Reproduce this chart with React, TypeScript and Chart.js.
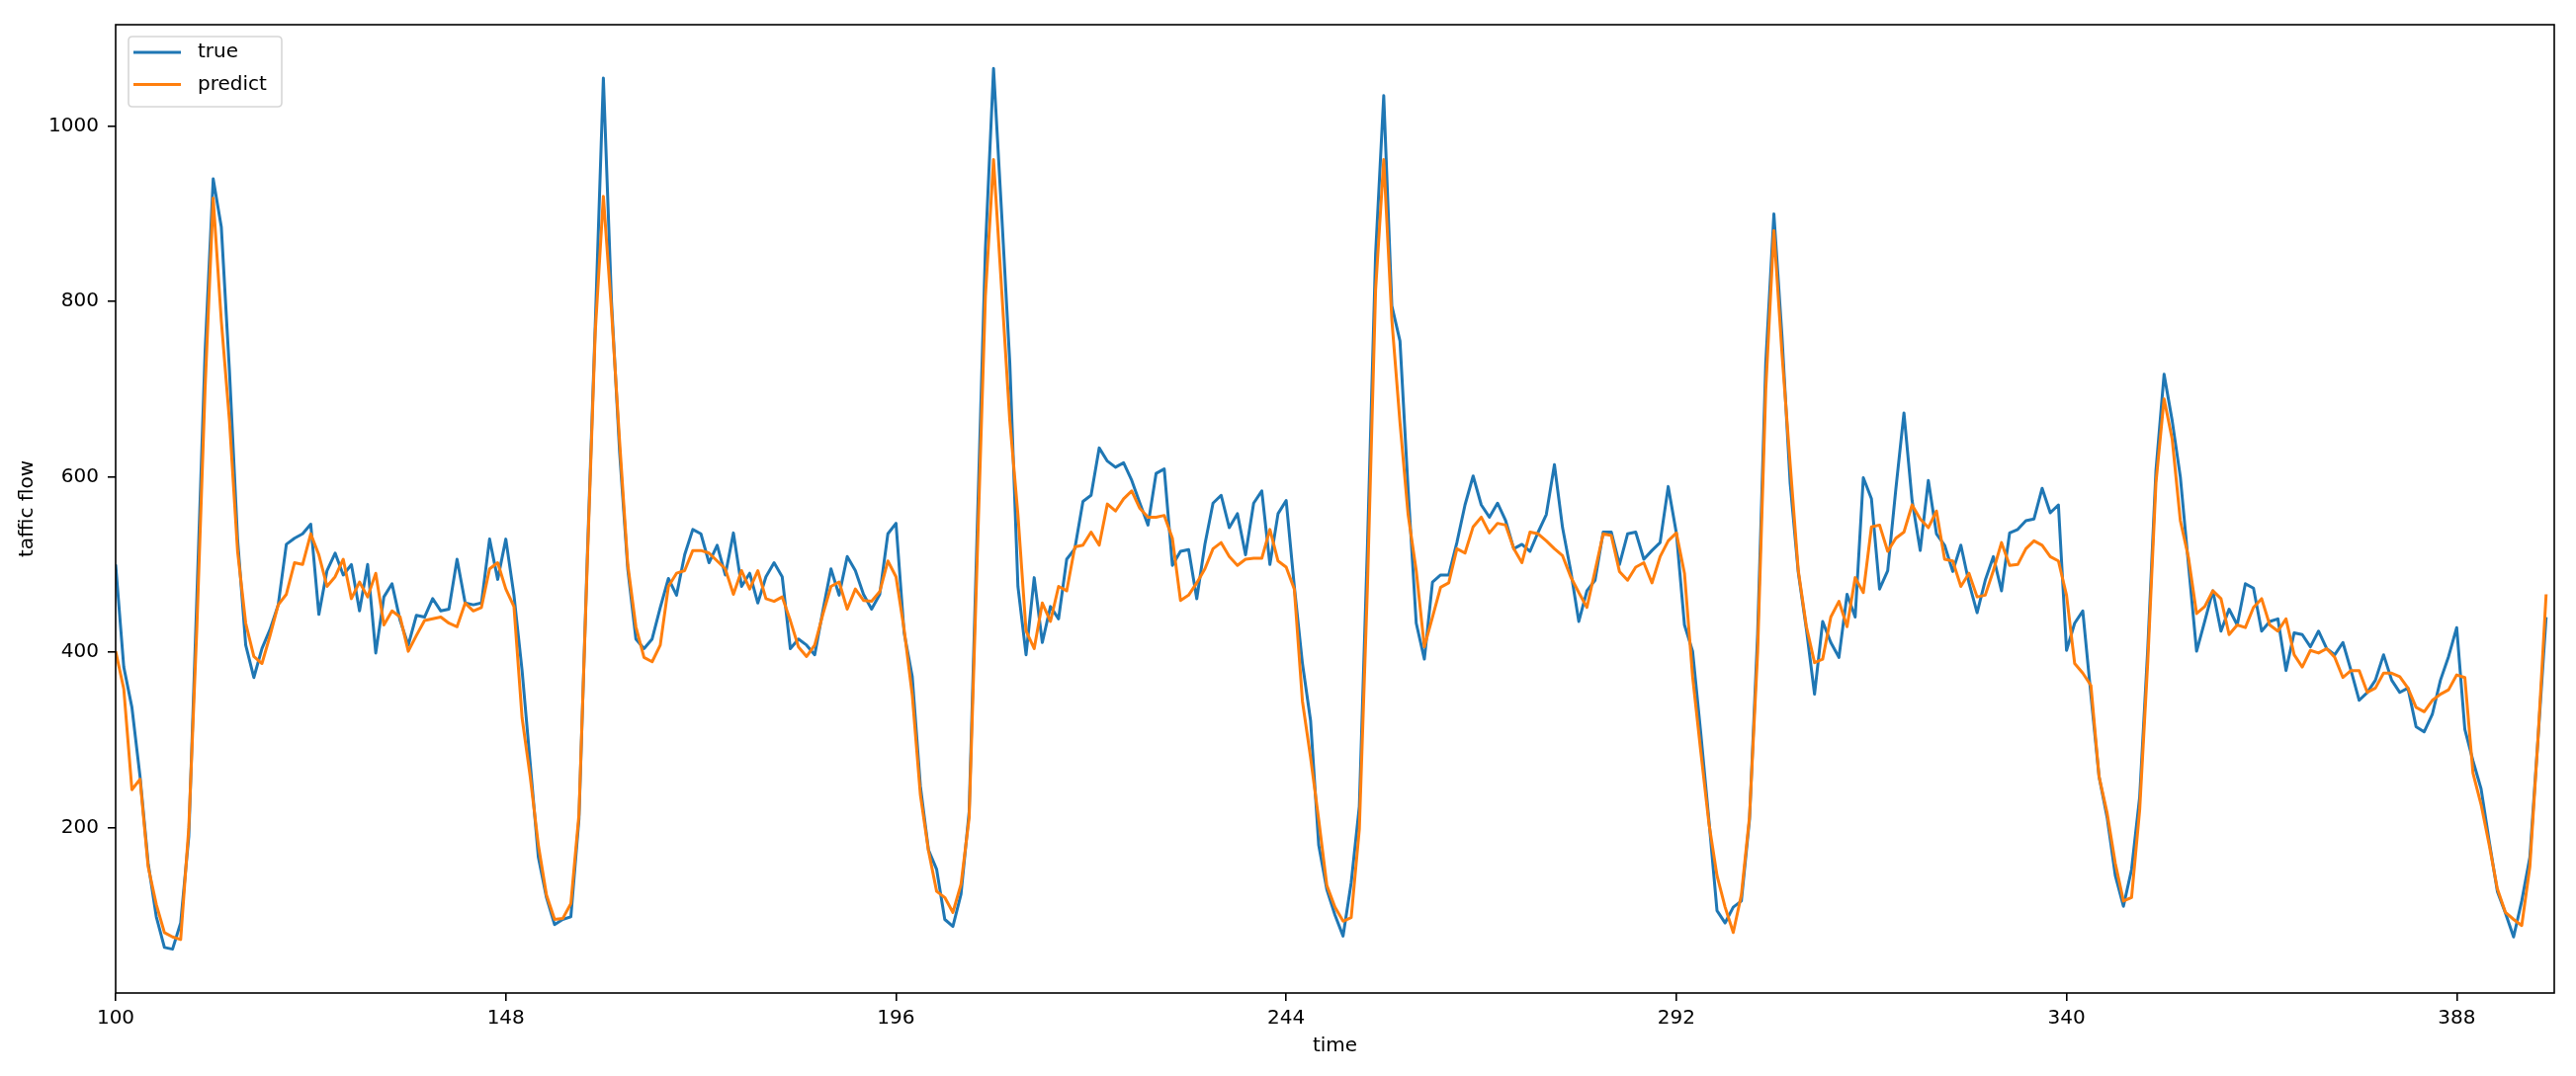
import React, { useEffect, useRef } from 'react';
import { Chart, registerables } from 'chart.js';

Chart.register(...registerables);

// ---- data -------------------------------------------------------------
const START_TIME = 100; // first time index; one sample per step

const trueValues: number[] = [
  // 100-149
  500, 383, 337, 258, 159, 98, 63, 61, 91, 190,
  465, 742, 940, 885, 721, 529, 408, 371, 404, 426,
  454, 523, 530, 535, 546, 443, 493, 513, 488, 500,
  447, 500, 399, 463, 478, 436, 408, 442, 440, 461,
  447, 449, 506, 456, 454, 456, 529, 483, 529, 465,
  // 150-199
  379, 273, 166, 120, 89, 95, 98, 210, 502, 773,
  1055, 800, 628, 495, 415, 404, 415, 451, 484, 465,
  511, 540, 535, 502, 522, 488, 536, 475, 490, 456,
  486, 502, 486, 404, 415, 408, 397, 447, 495, 465,
  509, 493, 466, 449, 466, 535, 547, 422, 372, 247,
  // 200-249
  174, 152, 95, 87, 124, 218, 543, 860, 1066, 900,
  730, 475, 397, 485, 411, 452, 438, 506, 518, 572,
  579, 633, 618, 611, 616, 596, 570, 545, 604, 609,
  499, 515, 517, 461, 523, 570, 579, 542, 558, 511,
  570, 584, 500, 558, 573, 475, 387, 322, 180, 129,
  // 250-299
  100, 76, 137, 224, 522, 854, 1035, 795, 755, 586,
  433, 392, 480, 488, 488, 525, 568, 601, 568, 554,
  570, 550, 518, 523, 515, 537, 557, 614, 542, 493,
  435, 470, 482, 537, 537, 500, 535, 537, 506, 516,
  525, 589, 536, 431, 401, 308, 209, 105, 91, 109,
  // 300-349
  116, 209, 421, 730, 900, 760, 593, 491, 426, 352,
  435, 411, 394, 466, 440, 599, 575, 472, 493, 586,
  673, 573, 516, 596, 535, 522, 492, 522, 479, 445,
  482, 509, 470, 536, 540, 550, 552, 587, 559, 568,
  402, 433, 447, 351, 258, 211, 145, 110, 152, 235,
  // 350-399
  405, 607, 717, 664, 600, 500, 401, 435, 470, 424,
  449, 431, 478, 473, 424, 435, 438, 379, 422, 420,
  406, 424, 404, 397, 411, 379, 345, 354, 368, 397,
  368, 354, 359, 315, 309, 329, 368, 395, 428, 312,
  276, 244, 184, 127, 102, 75, 116, 166, 301, 440,
];

const predictValues: number[] = [
  // 100-149
  401, 358, 243, 255, 155, 112, 80, 75, 72, 200,
  430, 700, 918, 778, 664, 515, 433, 395, 387, 419,
  454, 466, 502, 500, 535, 511, 475, 486, 506, 461,
  480, 463, 490, 431, 447, 440, 401, 419, 436, 438,
  440, 433, 429, 456, 447, 451, 495, 502, 472, 452,
  // 150-199
  325, 258, 180, 123, 95, 96, 113, 215, 495, 765,
  920, 790, 640, 500, 429, 394, 389, 408, 475, 490,
  493, 516, 516, 513, 504, 495, 466, 493, 472, 493,
  461, 458, 463, 436, 406, 395, 408, 443, 475, 480,
  449, 472, 459, 458, 469, 504, 486, 426, 351, 237,
  // 200-249
  173, 127, 120, 103, 135, 211, 510, 806, 962, 813,
  664, 557, 424, 404, 456, 435, 475, 470, 520, 522,
  537, 522, 569, 561, 575, 584, 564, 554, 554, 556,
  530, 459, 465, 479, 495, 518, 525, 509, 499, 506,
  507, 507, 540, 504, 497, 472, 344, 280, 209, 134,
  // 250-299
  109, 93, 97, 198, 475, 813, 962, 779, 662, 557,
  493, 406, 440, 474, 479, 518, 513, 543, 554, 536,
  547, 545, 518, 502, 537, 535, 527, 518, 510, 486,
  468, 451, 493, 535, 533, 492, 482, 497, 502, 479,
  509, 527, 536, 490, 372, 287, 205, 145, 109, 80,
  // 300-349
  123, 212, 400, 700, 881, 740, 615, 493, 429, 388,
  392, 440, 458, 429, 485, 468, 543, 545, 515, 530,
  537, 568, 552, 542, 561, 506, 504, 475, 490, 463,
  465, 493, 525, 499, 500, 518, 527, 522, 509, 504,
  465, 387, 376, 362, 258, 216, 159, 116, 120, 220,
  // 350-399
  390, 593, 689, 643, 550, 508, 444, 452, 470, 461,
  420, 431, 428, 451, 461, 431, 424, 438, 397, 383,
  402, 399, 404, 394, 371, 379, 379, 354, 359, 376,
  376, 372, 359, 337, 332, 345, 352, 357, 374, 371,
  262, 226, 180, 130, 103, 95, 88, 155, 301, 466,
];

const seriesNames = ['true', 'predict'];
const seriesColors = ['#1f77b4', '#ff7f0e'];
const xTickValues = [100, 148, 196, 244, 292, 340, 388];
const yTickValues = [200, 400, 600, 800, 1000];
const xAxisTitle = 'time';
const yAxisTitle = 'taffic flow';
const xRange = [100, 400];
const yRange = [11, 1116];

// ---- layout / style ----------------------------------------------------
const W = 2606;
const H = 1089;
const FONT = 'DejaVu Sans';
const FONT_SIZE = 20;

export default function App() {
  const ref = useRef<HTMLCanvasElement>(null);

  useEffect(() => {
    const canvas = ref.current;
    if (!canvas) return;

    const toPoints = (vals: number[]) => vals.map((v, i) => ({ x: START_TIME + i, y: v }));

    const frameAndLegend = {
      id: 'frameAndLegend',
      afterDraw(chart: any) {
        const { ctx, chartArea: a } = chart;
        ctx.save();
        // axes frame (all four spines)
        ctx.strokeStyle = '#000';
        ctx.lineWidth = 1.6;
        ctx.strokeRect(a.left, a.top, a.right - a.left, a.bottom - a.top);

        // legend box (upper left, matplotlib style)
        const bx = a.left + 13;
        const by = a.top + 12;
        const bw = 155;
        const bh = 71;
        const r = 4;
        ctx.beginPath();
        ctx.moveTo(bx + r, by);
        ctx.lineTo(bx + bw - r, by);
        ctx.quadraticCurveTo(bx + bw, by, bx + bw, by + r);
        ctx.lineTo(bx + bw, by + bh - r);
        ctx.quadraticCurveTo(bx + bw, by + bh, bx + bw - r, by + bh);
        ctx.lineTo(bx + r, by + bh);
        ctx.quadraticCurveTo(bx, by + bh, bx, by + bh - r);
        ctx.lineTo(bx, by + r);
        ctx.quadraticCurveTo(bx, by, bx + r, by);
        ctx.closePath();
        ctx.fillStyle = 'rgba(255,255,255,0.8)';
        ctx.fill();
        ctx.strokeStyle = 'rgba(204,204,204,0.8)';
        ctx.lineWidth = 1.6;
        ctx.stroke();

        ctx.font = `${FONT_SIZE}px "${FONT}"`;
        ctx.textBaseline = 'middle';
        ctx.textAlign = 'left';
        seriesNames.forEach((name, i) => {
          const yy = by + 16 + i * 32.5;
          ctx.beginPath();
          ctx.strokeStyle = seriesColors[i];
          ctx.lineWidth = 3;
          ctx.moveTo(bx + 5, yy);
          ctx.lineTo(bx + 53, yy);
          ctx.stroke();
          ctx.fillStyle = '#000';
          ctx.fillText(name, bx + 70, yy);
        });
        ctx.restore();
      },
    };

    const tickFont = { family: FONT, size: FONT_SIZE };

    const chart = new Chart(canvas, {
      type: 'line',
      data: {
        datasets: [
          {
            label: seriesNames[0],
            data: toPoints(trueValues),
            borderColor: seriesColors[0],
            backgroundColor: seriesColors[0],
            order: 2,
          },
          {
            label: seriesNames[1],
            data: toPoints(predictValues),
            borderColor: seriesColors[1],
            backgroundColor: seriesColors[1],
            order: 1,
          },
        ],
      },
      options: {
        responsive: false,
        animation: false,
        devicePixelRatio: 1,
        events: [],
        layout: { padding: { top: 25, right: 22, left: 0, bottom: 0 } },
        plugins: { legend: { display: false }, tooltip: { enabled: false } },
        elements: {
          point: { radius: 0 },
          line: { tension: 0, borderWidth: 3, borderJoinStyle: 'round', borderCapStyle: 'butt', fill: false },
        },
        scales: {
          x: {
            type: 'linear',
            min: xRange[0],
            max: xRange[1],
            afterBuildTicks: (s: any) => {
              s.ticks = xTickValues.map((v) => ({ value: v }));
            },
            afterFit: (s: any) => {
              s.height = 84;
            },
            grid: { display: true, drawOnChartArea: false, drawTicks: true, tickLength: 8, color: '#000', lineWidth: 1.6 },
            border: { display: false },
            ticks: {
              padding: 6,
              color: '#000',
              font: tickFont,
              maxRotation: 0,
              autoSkip: false,
              callback: (v: any) => String(v),
            },
            title: {
              display: true,
              text: xAxisTitle,
              color: '#000',
              font: tickFont,
              padding: { top: 0, bottom: 18 },
            },
          },
          y: {
            type: 'linear',
            min: yRange[0],
            max: yRange[1],
            afterBuildTicks: (s: any) => {
              s.ticks = yTickValues.map((v) => ({ value: v }));
            },
            afterFit: (s: any) => {
              s.width = 117;
            },
            grid: { display: true, drawOnChartArea: false, drawTicks: true, tickLength: 8, color: '#000', lineWidth: 1.6 },
            border: { display: false },
            ticks: {
              padding: 9,
              color: '#000',
              font: tickFont,
              autoSkip: false,
              callback: (v: any) => String(v),
            },
            title: {
              display: true,
              text: yAxisTitle,
              color: '#000',
              font: tickFont,
              padding: { top: 16, bottom: 0 },
            },
          },
        },
      },
      plugins: [frameAndLegend],
    } as any);

    return () => {
      chart.destroy();
    };
  }, []);

  return (
    <div style={{ position: 'absolute', left: 0, top: 0, width: W, height: H, background: '#fff' }}>
      <canvas ref={ref} width={W} height={H} style={{ display: 'block', width: W, height: H }} />
    </div>
  );
}
